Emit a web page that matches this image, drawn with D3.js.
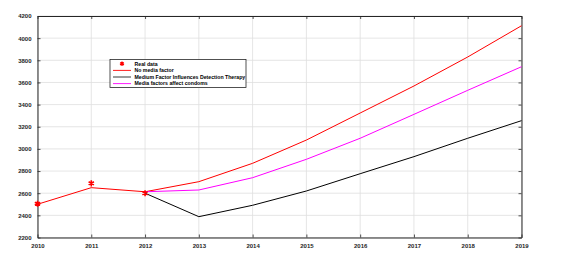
<!DOCTYPE html>
<html>
<head>
<meta charset="utf-8">
<script src="https://cdn.jsdelivr.net/npm/d3@7"></script>
<style>
  body { margin: 0; background: #fff; }
  svg { display: block; font-family: "Liberation Sans", Arial, sans-serif; }
  .tick text { font-size: 6px; font-weight: bold; fill: #262626; }
</style>
</head>
<body>
<svg id="chart" width="562" height="254"></svg>
<script>
// data
const years = [2010, 2011, 2012, 2013, 2014, 2015, 2016, 2017, 2018, 2019];
const realYears = [2010, 2011, 2012];
const realData = [2505, 2689, 2600];
const noMedia = [2500, 2650, 2613, 2704, 2870, 3080, 3324, 3568, 3830, 4112];
const mediaYears = [2012, 2013, 2014, 2015, 2016, 2017, 2018, 2019];
const mediumFactor = [2600, 2388, 2491, 2620, 2776, 2930, 3096, 3255];
const mediaCondoms = [2613, 2629, 2740, 2906, 3096, 3312, 3529, 3742];
const yTicks = [2200, 2400, 2600, 2800, 3000, 3200, 3400, 3600, 3800, 4000, 4200];

const legendItems = [
  { label: 'Real data', color: '#ff0000', type: 'star' },
  { label: 'No media factor', color: '#ff0000', type: 'line' },
  { label: 'Medium Factor Influences Detection Therapy', color: '#000000', type: 'line' },
  { label: 'Media factors affect condoms', color: '#ff00ff', type: 'line' },
];

const plot = { left: 37.5, right: 521.5, top: 16, bottom: 237.5 };
const axisColor = '#262626';

const svg = d3.select('#chart');

const x = d3.scaleLinear().domain([2010, 2019]).range([plot.left, plot.right]);
const y = d3.scaleLinear().domain([2200, 4200]).range([plot.bottom, plot.top]);

// grid
const grid = svg.append('g');
grid.selectAll('.gx')
  .data(years)
  .enter()
  .append('line')
  .attr('x1', (d) => x(d)).attr('x2', (d) => x(d))
  .attr('y1', plot.top).attr('y2', plot.bottom)
  .attr('stroke', '#dedede').attr('stroke-width', 0.8);
grid.selectAll('.gy')
  .data(yTicks)
  .enter()
  .append('line')
  .attr('x1', plot.left).attr('x2', plot.right)
  .attr('y1', (d) => y(d)).attr('y2', (d) => y(d))
  .attr('stroke', '#dedede').attr('stroke-width', 0.8);

// axes (inward ticks, box on)
const tickLen = 3;
const xAxis = d3.axisBottom(x).tickValues(years).tickFormat(d3.format('d'))
  .tickSizeInner(-tickLen).tickSizeOuter(0).tickPadding(6);
const yAxis = d3.axisLeft(y).tickValues(yTicks).tickFormat(d3.format('d'))
  .tickSizeInner(-tickLen).tickSizeOuter(0).tickPadding(6);
const xTop = d3.axisTop(x).tickValues(years).tickFormat('').tickSizeInner(-tickLen).tickSizeOuter(0);
const yRight = d3.axisRight(y).tickValues(yTicks).tickFormat('').tickSizeInner(-tickLen).tickSizeOuter(0);

function styleAxis(g) {
  g.selectAll('path').attr('stroke', axisColor).attr('stroke-width', 1);
  g.selectAll('line').attr('stroke', axisColor).attr('stroke-width', 0.8);
}

svg.append('g').attr('transform', `translate(0,${plot.bottom})`).call(xAxis).call(styleAxis);
svg.append('g').attr('transform', `translate(${plot.left},0)`).call(yAxis).call(styleAxis);
svg.append('g').attr('transform', `translate(0,${plot.top})`).call(xTop).call(styleAxis);
svg.append('g').attr('transform', `translate(${plot.right},0)`).call(yRight).call(styleAxis);

// lines
const line = d3.line().x((d) => x(d[0])).y((d) => y(d[1]));

svg.append('path')
  .datum(years.map((yr, i) => [yr, noMedia[i]]))
  .attr('d', line).attr('fill', 'none').attr('stroke', '#ff0000').attr('stroke-width', 1);

svg.append('path')
  .datum(mediaYears.map((yr, i) => [yr, mediaCondoms[i]]))
  .attr('d', line).attr('fill', 'none').attr('stroke', '#ff00ff').attr('stroke-width', 1);

svg.append('path')
  .datum(mediaYears.map((yr, i) => [yr, mediumFactor[i]]))
  .attr('d', line).attr('fill', 'none').attr('stroke', '#000000').attr('stroke-width', 1);

// real data stars
const star = d3.symbol().type(d3.symbolAsterisk).size(26);
svg.append('g')
  .selectAll('path')
  .data(realYears.map((yr, i) => [yr, realData[i]]))
  .enter()
  .append('path')
  .attr('d', star)
  .attr('transform', (d) => `translate(${x(d[0])},${y(d[1])})`)
  .attr('fill', 'none')
  .attr('stroke', '#ff0000')
  .attr('stroke-width', 1.6);

// legend
const legend = svg.append('g').attr('transform', 'translate(110,59.5)');
legend.append('rect')
  .attr('width', 136).attr('height', 28)
  .attr('fill', '#fff').attr('stroke', axisColor).attr('stroke-width', 0.8);

const rows = legend.selectAll('.row')
  .data(legendItems)
  .enter()
  .append('g')
  .attr('transform', (d, i) => `translate(0,${4.3 + i * 6.6})`);

rows.filter((d) => d.type === 'line')
  .append('line')
  .attr('x1', 3).attr('x2', 21)
  .attr('stroke', (d) => d.color).attr('stroke-width', (d) => (d.color === '#000000' ? 1.3 : 0.9))
  .attr('stroke-opacity', (d) => (d.color === '#000000' ? 0.6 : 1));

rows.filter((d) => d.type === 'star')
  .append('path')
  .attr('d', d3.symbol().type(d3.symbolAsterisk).size(14))
  .attr('transform', 'translate(12,0)')
  .attr('fill', 'none').attr('stroke', (d) => d.color).attr('stroke-width', 1.3);

rows.append('text')
  .attr('x', 24.5)
  .attr('dy', '0.35em')
  .attr('font-size', 5.2)
  .attr('font-weight', 'bold')
  .attr('fill', '#000')
  .text((d) => d.label);
</script>
</body>
</html>
